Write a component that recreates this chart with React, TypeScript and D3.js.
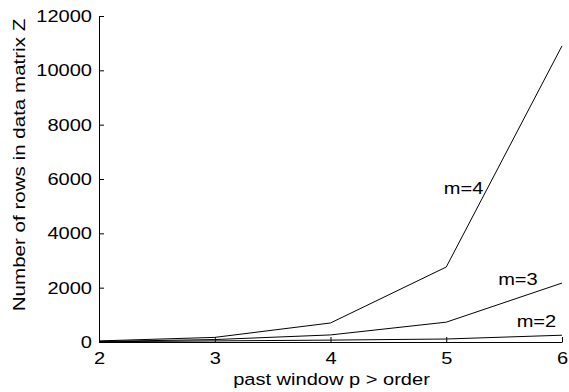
import React, { useRef, useEffect } from 'react'
import * as d3 from 'd3'

const pastWindow = [2, 3, 4, 5, 6]
const seriesNames = ['m=2', 'm=3', 'm=4']
const rowsM2 = [10, 40, 70, 110, 250]
const rowsM3 = [20, 90, 260, 730, 2170]
const rowsM4 = [40, 170, 700, 2760, 10900]
const yTicks = [0, 2000, 4000, 6000, 8000, 10000, 12000]
const xTicks = [2, 3, 4, 5, 6]
// where each series label ends, in data units (x, y of text baseline)
const labelAt: [number, number][] = [[5.95, 552], [5.79, 2098], [5.32, 5448]]

const W = 569
const H = 392
const FONT = '"Liberation Sans", Arial, sans-serif'
const FS = '17px'
// the original glyphs are wider than Arial at the same height
const SX = 1.18

export default function App() {
  const svgRef = useRef<SVGSVGElement>(null)

  useEffect(() => {
    if (!svgRef.current) return
    const svg = d3.select(svgRef.current)
    svg.selectAll('*').remove()

    const x = d3.scaleLinear().domain([2, 6]).range([99, 562])
    const y = d3.scaleLinear().domain([0, 12000]).range([342, 16])

    const allSeries = [rowsM2, rowsM3, rowsM4]

    const line = d3.line<number>()
      .x((d, i) => x(pastWindow[i]))
      .y(d => y(d))

    // left axis, ticks pointing inward
    const yAxis = svg.append('g')
      .attr('transform', `translate(${x(2)},0)`)
      .call(d3.axisLeft(y).tickValues(yTicks).tickSizeInner(-5).tickSizeOuter(0).tickFormat(d3.format('d')))
    yAxis.select('.domain').attr('stroke', '#000')
    yAxis.selectAll('line').attr('stroke', '#000')
    yAxis.selectAll('text')
      .attr('x', -7 / SX)
      .attr('transform', `scale(${SX},1)`)
      .style('font-family', FONT)
      .style('font-size', FS)
      .attr('fill', '#000')

    // bottom axis, ticks pointing inward
    const xAxis = svg.append('g')
      .attr('transform', `translate(0,${y(0)})`)
      .call(d3.axisBottom(x).tickValues(xTicks).tickSizeInner(-5).tickSizeOuter(0).tickPadding(10).tickFormat(d3.format('d')))
    xAxis.select('.domain').attr('stroke', '#000')
    xAxis.selectAll('line').attr('stroke', '#000')
    xAxis.selectAll('text')
      .attr('transform', `scale(${SX},1)`)
      .style('font-family', FONT)
      .style('font-size', FS)
      .attr('fill', '#000')

    svg.append('g')
      .selectAll('path')
      .data(allSeries)
      .enter().append('path')
      .attr('d', d => line(d))
      .attr('fill', 'none')
      .attr('stroke', '#000')
      .attr('stroke-width', 1)

    svg.append('g')
      .selectAll('text')
      .data(seriesNames)
      .enter().append('text')
      .attr('transform', (d, i) => `translate(${x(labelAt[i][0])},${y(labelAt[i][1])}) scale(${SX},1)`)
      .attr('text-anchor', 'end')
      .style('font-family', FONT)
      .style('font-size', FS)
      .text(d => d)

    // axis titles
    svg.append('text')
      .attr('transform', `translate(${(x(2) + x(6)) / 2 + 1},385) scale(${SX},1)`)
      .attr('text-anchor', 'middle')
      .style('font-family', FONT)
      .style('font-size', FS)
      .text('past window p > order')

    svg.append('text')
      .attr('transform', `translate(25,${(y(0) + y(12000)) / 2 - 14}) rotate(-90) scale(1.21,1)`)
      .attr('text-anchor', 'middle')
      .style('font-family', FONT)
      .style('font-size', FS)
      .text('Number of rows in data matrix Z')
  }, [])

  return (
    <svg
      ref={svgRef}
      width={W}
      height={H}
      style={{ position: 'absolute', left: 0, top: 0, background: '#fff' }}
    />
  )
}
